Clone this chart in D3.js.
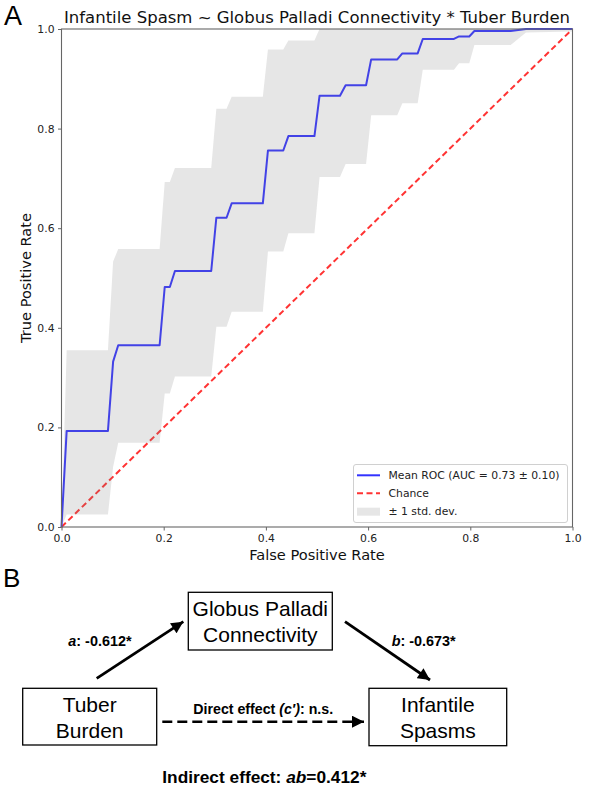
<!DOCTYPE html>
<html><head><meta charset="utf-8">
<script src="https://cdn.jsdelivr.net/npm/d3@7"></script>
<style>body{margin:0;background:#fff}svg{display:block}</style>
</head><body>
<svg id="c" width="589" height="790"></svg>
<script>
// ---- Data ----
const fpr      = [0, 0.0101, 0.0909, 0.101, 0.111, 0.192, 0.202, 0.212, 0.222, 0.293, 0.303, 0.323, 0.333, 0.394, 0.404, 0.434, 0.444, 0.495, 0.505, 0.545, 0.556, 0.596, 0.606, 0.657, 0.667, 0.697, 0.707, 0.768, 0.778, 0.798, 0.808, 0.879, 0.909, 1.0];
const meanTpr  = [0, 0.193, 0.193, 0.332, 0.365, 0.365, 0.482, 0.482, 0.514, 0.514, 0.621, 0.621, 0.650, 0.650, 0.756, 0.756, 0.785, 0.785, 0.866, 0.866, 0.887, 0.887, 0.939, 0.939, 0.951, 0.951, 0.980, 0.980, 0.985, 0.985, 0.996, 0.996, 1.0, 1.0];
const lowerTpr = [0, 0.025, 0.025, 0.121, 0.169, 0.169, 0.268, 0.268, 0.302, 0.302, 0.402, 0.402, 0.432, 0.432, 0.553, 0.553, 0.590, 0.590, 0.703, 0.703, 0.729, 0.729, 0.827, 0.827, 0.851, 0.851, 0.918, 0.918, 0.931, 0.931, 0.968, 0.968, 0.993, 0.995];
const upperTpr = [0, 0.355, 0.355, 0.533, 0.558, 0.558, 0.693, 0.693, 0.721, 0.721, 0.840, 0.840, 0.864, 0.864, 0.959, 0.959, 0.977, 0.977, 1, 1, 1, 1, 1, 1, 1, 1, 1, 1, 1, 1, 1, 1, 1, 1];
const chanceLine = [0, 1];
const xTicks = [0, 0.2, 0.4, 0.6, 0.8, 1.0];
const yTicks = [0, 0.2, 0.4, 0.6, 0.8, 1.0];
const titleText = "Infantile Spasm ~ Globus Palladi Connectivity * Tuber Burden";
const xLabel = "False Positive Rate";
const yLabel = "True Positive Rate";
const legendLabels = ["Mean ROC (AUC = 0.73 \u00b1 0.10)", "Chance", "\u00b1 1 std. dev."];

// Mediation diagram
const nodeNames = ["Tuber Burden", "Globus Palladi Connectivity", "Infantile Spasms"];
const nodeLines = [["Tuber", "Burden"], ["Globus Palladi", "Connectivity"], ["Infantile", "Spasms"]];
const pathA = "-0.612*";
const pathB = "-0.673*";
const directEffect = "n.s.";
const indirectEffect = "0.412*";

// ---- Chart A ----
const svg = d3.select("#c");
const m = {l: 61.5, r: 572.5, t: 29, b: 527};
const x = d3.scaleLinear().domain([0, 1]).range([m.l, m.r]);
const y = d3.scaleLinear().domain([0, 1]).range([m.b, m.t]);
const DV = "DejaVu Sans, sans-serif";

const pts = fpr.map((f, i) => ({f, mean: meanTpr[i], lo: lowerTpr[i], hi: upperTpr[i]}));

// chance
svg.append("path")
  .attr("d", d3.line()(chanceLine.map(v => [x(v), y(v)])))
  .attr("stroke", "#ff3333").attr("stroke-width", 2).attr("fill", "none")
  .attr("stroke-dasharray", "6,3.5");

// mean
svg.append("path")
  .attr("d", d3.line().x(d => x(d.f)).y(d => y(d.mean))(pts))
  .attr("stroke", "#3333ff").attr("stroke-width", 2).attr("fill", "none")
  .attr("stroke-linejoin", "round");

// std band
svg.append("path")
  .attr("d", d3.area().x(d => x(d.f)).y0(d => y(d.lo)).y1(d => y(d.hi))(pts))
  .attr("fill", "#808080").attr("fill-opacity", 0.2).attr("stroke", "none");

// axes
const gx = svg.append("g").attr("transform", `translate(0,${m.b})`)
  .call(d3.axisBottom(x).tickValues(xTicks).tickFormat(d3.format(".1f")).tickSizeOuter(0).tickSize(3.5).tickPadding(3.5));
const gy = svg.append("g").attr("transform", `translate(${m.l},0)`)
  .call(d3.axisLeft(y).tickValues(yTicks).tickFormat(d3.format(".1f")).tickSizeOuter(0).tickSize(3.5).tickPadding(3.5));
[gx, gy].forEach(g => {
  g.select(".domain").remove();
  g.selectAll("line").attr("stroke", "#555").attr("stroke-width", 0.9);
  g.selectAll("text").attr("font-family", DV).attr("font-size", 10.8).attr("fill", "#222");
});
// frame
svg.append("rect").attr("x", m.l).attr("y", m.t).attr("width", m.r - m.l).attr("height", m.b - m.t)
  .attr("fill", "none").attr("stroke", "#666").attr("stroke-width", 1.1);

svg.append("text").text(titleText).attr("x", (m.l + m.r) / 2).attr("y", 22.5)
  .attr("text-anchor", "middle").attr("font-family", DV).attr("font-size", 16.5).attr("fill", "#111");
svg.append("text").text(xLabel).attr("x", (m.l + m.r) / 2).attr("y", 560)
  .attr("text-anchor", "middle").attr("font-family", DV).attr("font-size", 14.6).attr("fill", "#111");
svg.append("text").text(yLabel).attr("transform", `translate(31,${(m.t + m.b) / 2}) rotate(-90)`)
  .attr("text-anchor", "middle").attr("font-family", DV).attr("font-size", 14.6).attr("fill", "#111");

// legend
const lg = svg.append("g");
lg.append("rect").attr("x", 353.5).attr("y", 464.5).attr("width", 214).attr("height", 58).attr("rx", 2.5)
  .attr("fill", "#fff").attr("fill-opacity", 0.85).attr("stroke", "#d0d0d0").attr("stroke-width", 1);
const rowY = [475.3, 493.3, 511.7];
lg.append("line").attr("x1", 357).attr("x2", 380).attr("y1", rowY[0]).attr("y2", rowY[0])
  .attr("stroke", "#3333ff").attr("stroke-width", 2);
lg.append("line").attr("x1", 357).attr("x2", 380).attr("y1", rowY[1]).attr("y2", rowY[1])
  .attr("stroke", "#ff3333").attr("stroke-width", 2).attr("stroke-dasharray", "6,3.5");
lg.append("rect").attr("x", 357).attr("y", rowY[2] - 4).attr("width", 23).attr("height", 8)
  .attr("fill", "#808080").attr("fill-opacity", 0.2);
lg.selectAll("text.l").data(legendLabels).enter().append("text")
  .text(d => d).attr("x", 388.5).attr("y", (d, i) => rowY[i]).attr("dy", "0.35em")
  .attr("font-family", DV).attr("font-size", 10.8).attr("fill", "#222");

// panel letters
const HV = "Liberation Sans, Arial, Helvetica, sans-serif";
svg.append("text").text("A").attr("x", 4).attr("y", 25).attr("font-family", HV).attr("font-size", 27).attr("fill", "#000");
svg.append("text").text("B").attr("x", 3).attr("y", 586.5).attr("font-family", HV).attr("font-size", 26).attr("fill", "#000");

// ---- Diagram B ----
const boxes = [
  {x0: 22.7, x1: 156.7, y0: 688.3, y1: 745, base: [711.7, 738.3]},
  {x0: 188.3, x1: 332.3, y0: 592.3, y1: 650, base: [615.5, 642]},
  {x0: 369, x1: 506.7, y0: 688.3, y1: 745.7, base: [711.7, 738.3]}
];
const defs = svg.append("defs");
defs.append("marker").attr("id", "ah").attr("viewBox", "0 0 10 10").attr("refX", 10).attr("refY", 5)
  .attr("markerWidth", 13).attr("markerHeight", 12).attr("markerUnits", "userSpaceOnUse").attr("orient", "auto")
  .append("path").attr("d", "M0,0 L10,5 L0,10 Z").attr("fill", "#000");

boxes.forEach((b, i) => {
  svg.append("rect").attr("x", b.x0).attr("y", b.y0).attr("width", b.x1 - b.x0).attr("height", b.y1 - b.y0)
    .attr("fill", "#fff").attr("stroke", "#000").attr("stroke-width", 1.3);
  nodeLines[i].forEach((t, j) => {
    svg.append("text").text(t).attr("x", (b.x0 + b.x1) / 2).attr("y", b.base[j])
      .attr("text-anchor", "middle").attr("font-family", HV).attr("font-size", 21).attr("fill", "#000");
  });
});

// arrows
svg.append("line").attr("x1", 96.7).attr("y1", 678.3).attr("x2", 183.3).attr("y2", 621.7)
  .attr("stroke", "#000").attr("stroke-width", 2.8).attr("marker-end", "url(#ah)");
svg.append("line").attr("x1", 345).attr("y1", 621.7).attr("x2", 430).attr("y2", 680)
  .attr("stroke", "#000").attr("stroke-width", 2.8).attr("marker-end", "url(#ah)");
svg.append("line").attr("x1", 162.3).attr("y1", 721.7).attr("x2", 364).attr("y2", 721.7)
  .attr("stroke", "#000").attr("stroke-width", 2.6).attr("stroke-dasharray", "10,5").attr("marker-end", "url(#ah)");

function boldLabel(parts, xx, yy, size, anchor) {
  const t = svg.append("text").attr("x", xx).attr("y", yy).attr("font-family", HV).attr("font-weight", "bold")
    .attr("font-size", size).attr("fill", "#000").attr("text-anchor", anchor || "start");
  parts.forEach(p => t.append("tspan").text(p[0]).attr("font-style", p[1] ? "italic" : "normal"));
  return t;
}
boldLabel([["a", true], [": " + pathA, false]], 68.3, 646, 14.4);
boldLabel([["b", true], [": " + pathB, false]], 391.7, 646, 14.4);
boldLabel([["Direct effect ", false], ["(c\u2032)", true], [": " + directEffect, false]], 193.3, 713.5, 14.2);
boldLabel([["Indirect effect: ", false], ["ab", true], ["=" + indirectEffect, false]], 162.3, 782.7, 17.3);
</script>
</body></html>
